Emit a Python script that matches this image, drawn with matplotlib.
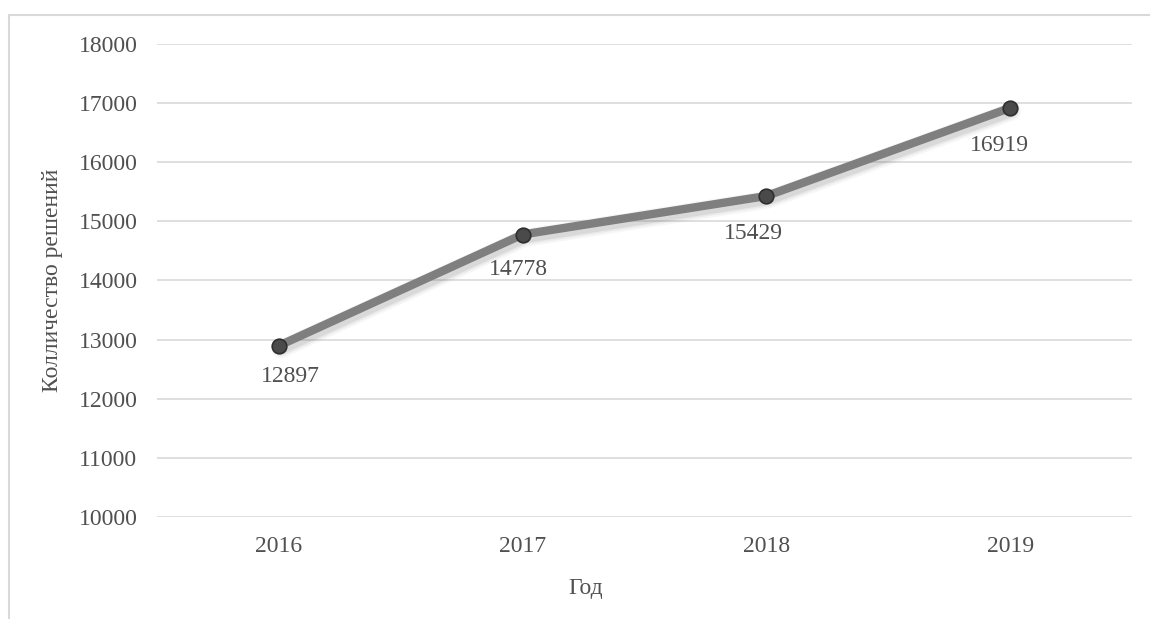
import matplotlib
matplotlib.use("Agg")
import matplotlib.pyplot as plt
import matplotlib.patheffects as pe
from matplotlib.patches import Rectangle

years = ["2016", "2017", "2018", "2019"]
decisions = [12897, 14778, 15429, 16919]
y_ticks = [10000, 11000, 12000, 13000, 14000, 15000, 16000, 17000, 18000]

# label placement (points) relative to each marker
label_offsets = [(8, -22), (-3, -25), (-9, -27), (-8, -27)]

text_color = "#505050"
plt.rcParams["font.family"] = ["Liberation Serif", "DejaVu Serif"]

fig = plt.figure(figsize=(11.5, 6.19), dpi=100)
ax = fig.add_axes([0.1365, 0.1648, 0.8478, 0.7641])

# chart area outline (top and left edges visible)
fig.patches.append(Rectangle((9 / 1150, -0.05), 1.2, 1 - 15 / 619 + 0.05,
                             transform=fig.transFigure, fill=False,
                             edgecolor="#d9d9d9", linewidth=1.5))

# soft shadow built from a few wide, faint strokes
shadow = [pe.SimpleLineShadow(offset=(1.5, -2.5), shadow_color="#606060",
                              alpha=a, rho=1.0, linewidth=w)
          for w, a in [(13, 0.05), (10, 0.08), (7.5, 0.12)]]

x = list(range(len(years)))
ax.plot(x, decisions, color="#7f7f7f", linewidth=6, solid_capstyle="round",
        solid_joinstyle="round", zorder=3,
        path_effects=shadow + [pe.Normal()])
ax.plot(x, decisions, linestyle="none", marker="o", markersize=10.5,
        markerfacecolor="#4a4a4a", markeredgecolor="#2e2e2e",
        markeredgewidth=1.2, zorder=4)

for xi, v, off in zip(x, decisions, label_offsets):
    ax.annotate(f"{v}", (xi, v), xytext=off, textcoords="offset points",
                ha="center", va="center", fontsize=17, color=text_color)

ax.set_xlim(-0.5, len(years) - 0.5)
ax.set_ylim(10000, 18000)
ax.set_yticks(y_ticks)
ax.set_xticks(x)
ax.set_xticklabels(years)
ax.tick_params(axis="both", length=0, labelsize=17, labelcolor=text_color)
ax.tick_params(axis="y", pad=14)
ax.tick_params(axis="x", pad=14)
ax.grid(axis="y", color="#d9d9d9", linewidth=1.2)
ax.set_axisbelow(True)
for s in ax.spines.values():
    s.set_visible(False)

ax.set_xlabel("Год", fontsize=17, color=text_color)
ax.xaxis.set_label_coords(0.440, -0.129)
ax.set_ylabel("Колличество решений", fontsize=17, color=text_color, labelpad=11)

fig.savefig("out.png", dpi=100, facecolor="white")
